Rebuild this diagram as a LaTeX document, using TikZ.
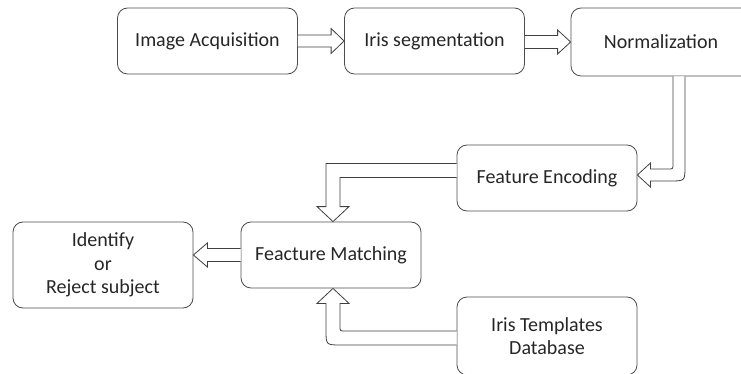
\documentclass[tikz,border=0pt]{standalone}
\usepackage{fontspec}
\setmainfont{Carlito}
\usetikzlibrary{calc}

\begin{document}
\begin{tikzpicture}
	[
	x = {(1pt, 0pt)},
	y = {(0pt, -1pt)},
	box/.style = {draw = black!70, line width = 0.8pt, rounded corners = 10pt, inner sep = 0pt,
		minimum width = 180pt, minimum height = 66pt, align = center, text = black!85,
		font = \fontsize{20}{23.5}\selectfont},
	fatarrow/.style = {draw = black!75, fill = white, line width = 0.8pt, line join = miter}]
	
	\useasboundingbox (0, 0) rectangle (741, 374);
	
	%% the boxes
	
	\node[box] (ia) at (207.5, 41) {Image Acquisition};
	\node[box] (is) at (434.5, 41) {Iris segmentation};
	\node[box, minimum height = 68pt] (no) at (661, 42) {Normalization};
	\node[box] (fe) at (547, 178) {Feature Encoding};
	\node[box] (fm) at (331, 255) {Feacture Matching};
	\node[box, minimum height = 86pt] (id) at (103, 265) {Identify\\or\\Reject subject};
	\node[box, minimum height = 78pt] (db) at (547, 336) {Iris Templates\\Database};
	
	%% the tips and corners of the arrows
	
	\coordinate (t1) at (is.west);
	\coordinate (s2) at (is.east |- no.west);
	\coordinate (t3) at ($(fe.east)+(0,-3)$);
	\coordinate (s3) at ($(no.south)+(18,0)$);
	\coordinate (c3) at (s3 |- t3);
	\coordinate (t4) at ($(fm.north)+(2,0)$);
	\coordinate (s4) at ($(fe.west)+(0,-7.5)$);
	\coordinate (c4) at (t4 |- s4);
	\coordinate (t5) at (id.east |- fm.west);
	\coordinate (t6) at ($(fm.south)+(2,0)$);
	\coordinate (s6) at ($(db.west)+(0,2)$);
	\coordinate (c6) at (t6 |- s6);
	
	%% the arrows
	
	\draw[fatarrow] ($(ia.east)+(0,-6)$) -- ($(t1)+(-13,-6)$) -- ($(t1)+(-13,-12.5)$) -- (t1)
		-- ($(t1)+(-13,12.5)$) -- ($(t1)+(-13,6)$) -- ($(ia.east)+(0,6)$);
	
	\draw[fatarrow] ($(s2)+(0,-6.5)$) -- ($(no.west)+(-13,-6.5)$) -- ($(no.west)+(-13,-12)$) -- (no.west)
		-- ($(no.west)+(-13,12)$) -- ($(no.west)+(-13,6.5)$) -- ($(s2)+(0,6.5)$);
	
	\draw[fatarrow] ($(s3)+(6,0)$) -- ($(c3)+(6,-9)$) .. controls ($(c3)+(6,6)$) .. ($(c3)+(-9,6)$)
		-- ($(t3)+(13,6)$) -- ($(t3)+(13,12)$) -- (t3) -- ($(t3)+(13,-12)$) -- ($(t3)+(13,-6)$)
		-- ($(c3)+(-11,-6)$) .. controls ($(c3)+(-6,-6)$) .. ($(c3)+(-6,-11)$) -- ($(s3)+(-6,0)$);
	
	\draw[fatarrow] ($(s4)+(0,-7)$) -- ($(c4)+(-7,-7)$) -- ($(t4)+(-7,-15)$) -- ($(t4)+(-16,-15)$) -- (t4)
		-- ($(t4)+(16,-15)$) -- ($(t4)+(7,-15)$) -- ($(c4)+(7,7)$) -- ($(s4)+(0,7)$);
	
	\draw[fatarrow] ($(fm.west)+(0,-6.5)$) -- ($(t5)+(14,-6.5)$) -- ($(t5)+(14,-12)$) -- (t5)
		-- ($(t5)+(14,12)$) -- ($(t5)+(14,6.5)$) -- ($(fm.west)+(0,6.5)$);
	
	\draw[fatarrow] ($(s6)+(0,-7)$) -- ($(c6)+(12,-7)$) .. controls ($(c6)+(7,-7)$) .. ($(c6)+(7,-12)$)
		-- ($(t6)+(7,15)$) -- ($(t6)+(16,15)$) -- (t6) -- ($(t6)+(-16,15)$) -- ($(t6)+(-7,15)$)
		-- ($(c6)+(-7,-8)$) .. controls ($(c6)+(-7,7)$) .. ($(c6)+(8,7)$) -- ($(s6)+(0,7)$);
\end{tikzpicture}
\end{document}
